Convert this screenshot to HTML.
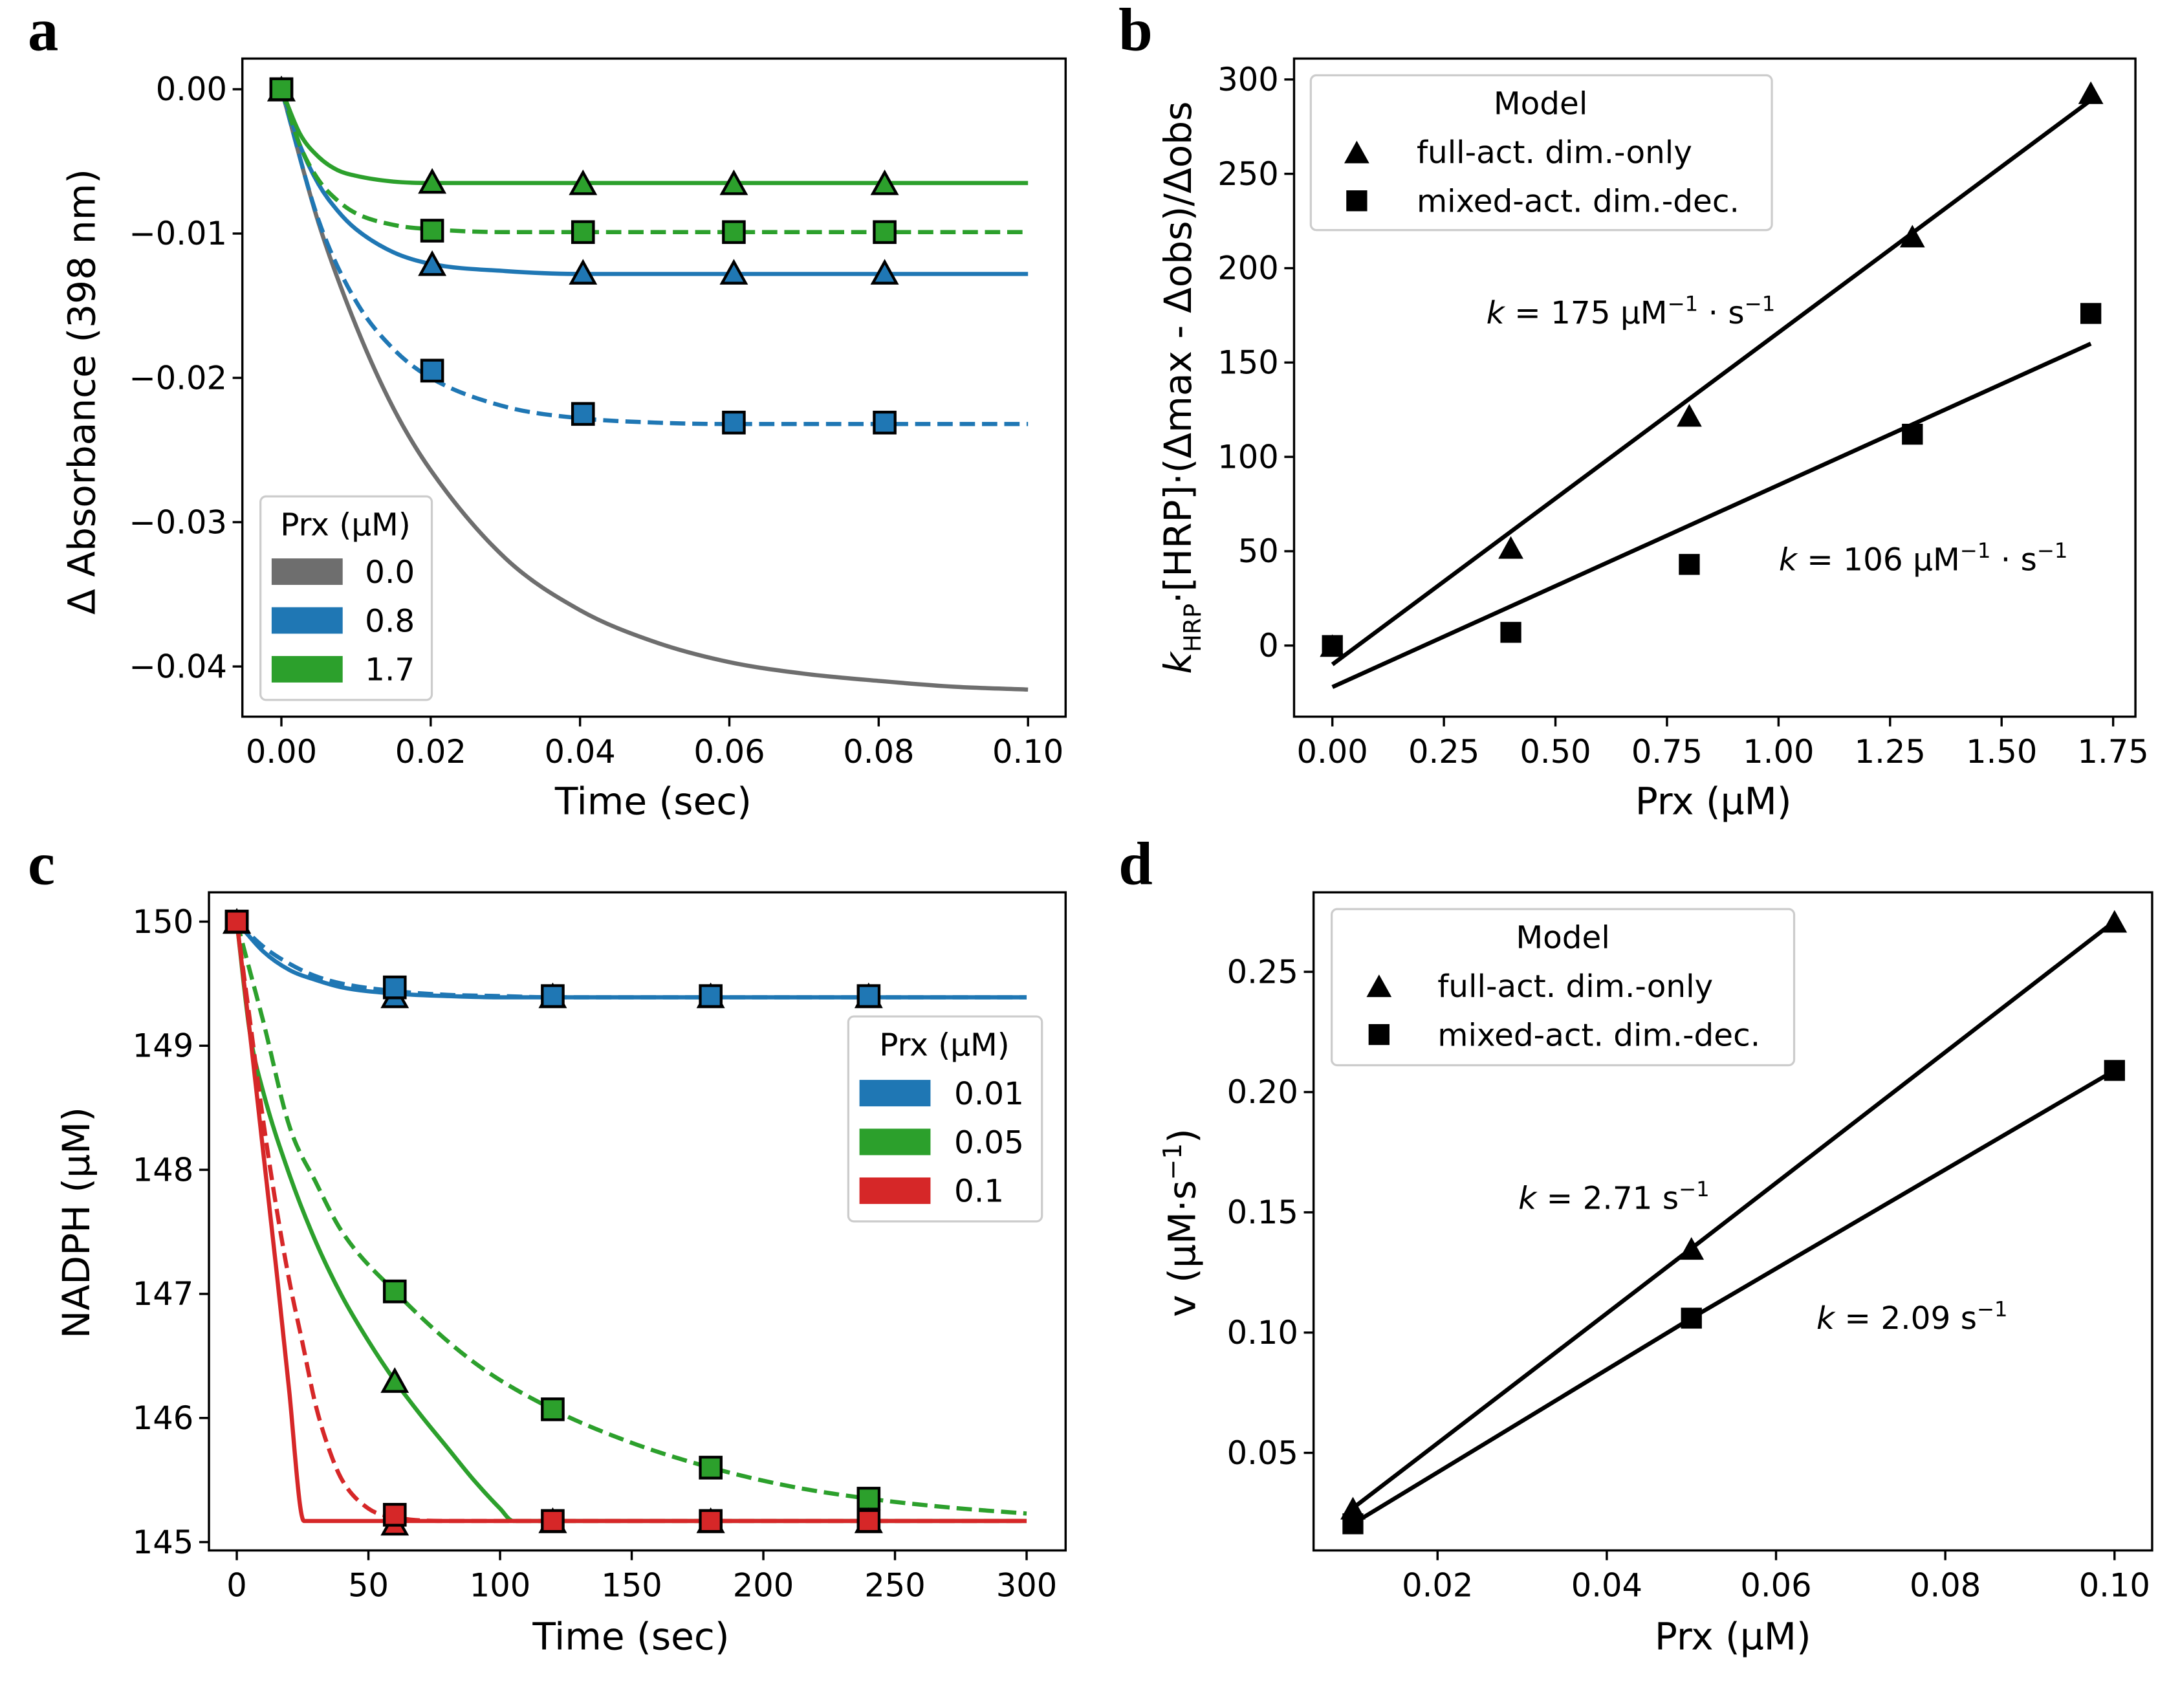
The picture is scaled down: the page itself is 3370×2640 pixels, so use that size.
<!DOCTYPE html>
<html><head><meta charset="utf-8"><style>
html,body{margin:0;padding:0;background:#fff;}
svg{display:block;}
text{font-family:"DejaVu Sans","Liberation Sans",sans-serif;fill:#000;}
.tick{font-size:23px;}
.lab{font-size:27px;}
.leg{font-size:22.5px;}
.let{font-family:"Liberation Serif",serif;font-weight:bold;font-size:44px;}
</style></head><body>
<svg id="fig" width="3370" height="2640" viewBox="0 0 1565 1225" preserveAspectRatio="none" xmlns="http://www.w3.org/2000/svg">
<rect width="1565" height="1225" fill="#fff"/>
<text class="let" x="20" y="36">a</text>
<text class="let" x="803" y="36">b</text>
<text class="let" x="20" y="634">c</text>
<text class="let" x="803" y="634">d</text>
</svg>
<script>
// ---------- Panel a data ----------
const aGrayT=[0,0.005,0.01,0.015,0.02,0.03,0.04,0.05,0.06,0.07,0.08,0.09,0.1];
const aGrayY=[0,-0.0093,-0.0164,-0.0221,-0.0264,-0.0325,-0.0361,-0.0383,-0.0397,-0.0405,-0.0410,-0.0414,-0.0416];
const aGreenSolidT=[0,0.0025,0.005,0.0075,0.01,0.015,0.02,0.03,0.1];
const aGreenSolidY=[0,-0.0031,-0.0047,-0.0056,-0.0060,-0.0064,-0.0065,-0.0065,-0.0065];
const aGreenDashT=[0,0.0025,0.005,0.0075,0.01,0.015,0.02,0.03,0.1];
const aGreenDashY=[0,-0.0039,-0.0063,-0.0077,-0.0086,-0.0094,-0.0097,-0.0099,-0.0099];
const aBlueSolidT=[0,0.0025,0.005,0.0075,0.01,0.015,0.02,0.03,0.04,0.1];
const aBlueSolidY=[0,-0.0039,-0.0066,-0.0084,-0.0097,-0.0113,-0.0121,-0.0126,-0.0128,-0.0128];
const aBlueDashT=[0,0.005,0.01,0.015,0.02,0.03,0.04,0.05,0.06,0.1];
const aBlueDashY=[0,-0.0091,-0.0147,-0.0180,-0.0200,-0.0220,-0.0228,-0.0231,-0.0232,-0.0232];
const aMarkT=[0,0.0202,0.0404,0.0606,0.0808];
const aGreenTri=[0,-0.0064,-0.0065,-0.0065,-0.0065];
const aGreenSq=[0,-0.0098,-0.0099,-0.0099,-0.0099];
const aBlueTri=[0,-0.0121,-0.0127,-0.0127,-0.0127];
const aBlueSq=[0,-0.0195,-0.0225,-0.0231,-0.0231];
const aXTicks=[0,0.02,0.04,0.06,0.08,0.1];
const aXTickLabels=["0.00","0.02","0.04","0.06","0.08","0.10"];
const aYTicks=[0,-0.01,-0.02,-0.03,-0.04];
const aYTickLabels=["0.00","\u22120.01","\u22120.02","\u22120.03","\u22120.04"];
const aLegendLabels=["0.0","0.8","1.7"];
// ---------- Panel b data ----------
const bX=[0,0.4,0.8,1.3,1.7];
const bTri=[0,52,122,217,293];
const bSq=[0,7,43,112,176];
const bTriFit=[-10,289];
const bSqFit=[-22,160];
const bXTicks=[0,0.25,0.5,0.75,1,1.25,1.5,1.75];
const bXTickLabels=["0.00","0.25","0.50","0.75","1.00","1.25","1.50","1.75"];
const bYTicks=[0,50,100,150,200,250,300];
// ---------- Panel c data ----------
const cBlueSolidT=[0,10,20,30,40,60,80,100,120,300];
const cBlueSolidY=[150,149.76,149.61,149.53,149.47,149.42,149.40,149.39,149.39,149.39];
const cBlueDashT=[0,10,20,30,40,60,80,100,120,300];
const cBlueDashY=[150,149.80,149.66,149.56,149.50,149.44,149.41,149.40,149.39,149.39];
const cGreenSolidT=[0,5,10,20,30,40,50,60,70,80,90,100,105,300];
const cGreenSolidY=[150,149.1,148.63,147.96,147.42,146.98,146.62,146.3,146.02,145.76,145.5,145.27,145.17,145.17];
const cGreenDashT=[0,5,10,20,30,40,60,90,120,150,180,210,240,270,300];
const cGreenDashY=[150,149.6,149.2,148.35,147.9,147.5,147.02,146.45,146.07,145.8,145.6,145.45,145.35,145.28,145.23];
const cRedSolidT=[0,5,10,15,20,24,25.5,300];
const cRedSolidY=[150,149.1,148.15,147.2,146.2,145.3,145.17,145.17];
const cRedDashT=[0,5,10,15,20,25,30,35,40,50,60,80,300];
const cRedDashY=[150,149.2,148.4,147.7,147.1,146.6,146.1,145.75,145.5,145.27,145.2,145.17,145.17];
const cMarkT=[0,60,120,180,240];
const cBlueTri=[150,149.4,149.4,149.4,149.4];
const cBlueSq=[150,149.47,149.4,149.4,149.4];
const cGreenTri=[150,146.3,145.17,145.17,145.17];
const cGreenSq=[150,147.02,146.07,145.6,145.35];
const cRedTri=[150,145.15,145.17,145.17,145.17];
const cRedSq=[150,145.22,145.17,145.17,145.17];
const cXTicks=[0,50,100,150,200,250,300];
const cYTicks=[145,146,147,148,149,150];
const cLegendLabels=["0.01","0.05","0.1"];
// ---------- Panel d data ----------
const dX=[0.01,0.05,0.1];
const dTri=[0.027,0.135,0.271];
const dSq=[0.0205,0.106,0.209];
const dXTicks=[0.02,0.04,0.06,0.08,0.1];
const dXTickLabels=["0.02","0.04","0.06","0.08","0.10"];
const dYTicks=[0.05,0.1,0.15,0.2,0.25];
const dYTickLabels=["0.05","0.10","0.15","0.20","0.25"];

const NS="http://www.w3.org/2000/svg";
const svg=document.getElementById('fig');
function mk(tag,attrs,parent,txt){const e=document.createElementNS(NS,tag);for(const k in attrs)e.setAttribute(k,attrs[k]);if(txt!==undefined)e.textContent=txt;(parent||svg).appendChild(e);return e;}
function lin(d0,d1,p0,p1){return v=>p0+(v-d0)*(p1-p0)/(d1-d0);}
const BLUE="#1f77b4",GREEN="#2ca02c",RED="#d62728",GRAY="#6e6e6e";

function axesFrame(g,box,xs,ys,xt,xl,yt,yl){
  xt.forEach((v,i)=>{const x=xs(v);
    const t=mk('line',{x1:x,x2:x,y1:box.b,y2:box.b+7,stroke:'#000','stroke-width':1.6},g);
    
    const tx=mk('text',{x:x,y:box.b+33,'text-anchor':'middle',class:'tick'},g,xl[i]);
    });
  yt.forEach((v,i)=>{const y=ys(v);
    const t=mk('line',{x1:box.l-7,x2:box.l,y1:y,y2:y,stroke:'#000','stroke-width':1.6},g);
    
    const tx=mk('text',{x:box.l-11,y:y+8,'text-anchor':'end',class:'tick'},g,yl[i]);
    });
}
function frame(g,box){const r=mk('rect',{x:box.l,y:box.t,width:box.r-box.l,height:box.b-box.t,fill:'none',stroke:'#000','stroke-width':1.6},g);
  }
function monoPath(X,Y){
  const n=X.length;const d=[],m=new Array(n);
  for(let i=0;i<n-1;i++)d.push((Y[i+1]-Y[i])/(X[i+1]-X[i]));
  m[0]=d[0];m[n-1]=d[n-2];
  for(let i=1;i<n-1;i++){m[i]=(d[i-1]*d[i]<=0)?0:(d[i-1]+d[i])/2;}
  for(let i=0;i<n-1;i++){if(d[i]===0){m[i]=0;m[i+1]=0;continue;}
    const a=m[i]/d[i],b=m[i+1]/d[i],s=a*a+b*b;if(s>9){const t=3/Math.sqrt(s);m[i]=t*a*d[i];m[i+1]=t*b*d[i];}}
  let p='M'+X[0].toFixed(2)+','+Y[0].toFixed(2);
  for(let i=0;i<n-1;i++){const h=(X[i+1]-X[i])/3;
    p+=' C'+(X[i]+h).toFixed(2)+','+(Y[i]+m[i]*h).toFixed(2)+' '+(X[i+1]-h).toFixed(2)+','+(Y[i+1]-m[i+1]*h).toFixed(2)+' '+X[i+1].toFixed(2)+','+Y[i+1].toFixed(2);}
  return p;}
function curve(g,xs,ys,T,Y,color,dash,name){
  const p=mk('path',{d:monoPath(T.map(xs),Y.map(ys)),fill:'none',stroke:color,'stroke-width':3,'stroke-linejoin':'round','stroke-dasharray':dash?'11,5':'none'},g);
  }
function tri(g,x,y,fill,s,name){const h=s*0.9;const p=mk('polygon',{points:`${x-s/2},${y+h/2} ${x+s/2},${y+h/2} ${x},${y-h/2}`,fill:fill,stroke:'#000','stroke-width':fill==='#000'?0:2,'stroke-linejoin':'miter'},g);
  }
function sq(g,x,y,fill,s,name){const p=mk('rect',{x:x-s/2,y:y-s/2,width:s,height:s,fill:fill,stroke:'#000','stroke-width':fill==='#000'?0:2},g);
  }

// ===== Panel a =====
(function(){
const g=mk('g',{});
const box={l:174,r:765,t:42,b:514};
const xs=lin(0,0.1,202,738), ys=lin(0,-0.04,64,478);
axesFrame(g,box,xs,ys,aXTicks,aXTickLabels,aYTicks,aYTickLabels);
curve(g,xs,ys,aGrayT,aGrayY,GRAY,false,'curve-gray-0.0');
curve(g,xs,ys,aBlueDashT,aBlueDashY,BLUE,true,'curve-blue-dashed');
curve(g,xs,ys,aBlueSolidT,aBlueSolidY,BLUE,false,'curve-blue-solid');
curve(g,xs,ys,aGreenDashT,aGreenDashY,GREEN,true,'curve-green-dashed');
curve(g,xs,ys,aGreenSolidT,aGreenSolidY,GREEN,false,'curve-green-solid');
aMarkT.forEach((t,i)=>{tri(g,xs(t),ys(aBlueTri[i]),BLUE,17,'marker-blue-tri');});
aMarkT.forEach((t,i)=>{sq(g,xs(t),ys(aBlueSq[i]),BLUE,15,'marker-blue-sq');});
aMarkT.forEach((t,i)=>{tri(g,xs(t),ys(aGreenTri[i]),GREEN,17,'marker-green-tri');});
aMarkT.forEach((t,i)=>{sq(g,xs(t),ys(aGreenSq[i]),GREEN,15,'marker-green-sq');});
frame(g,box);
const lg=mk('g',{},g);
mk('rect',{x:187,y:356,width:123,height:146,rx:4,fill:'#fff','fill-opacity':0.8,stroke:'#ccc','stroke-width':1.5},lg);
mk('text',{x:248,y:384,'text-anchor':'middle',class:'leg'},lg,'Prx (\u00b5M)');
const cols=[GRAY,BLUE,GREEN],ly=[410,445,480];
aLegendLabels.forEach((l,i)=>{const r=mk('rect',{x:195,y:ly[i]-9.5,width:51,height:19,fill:cols[i]},lg);
  
  const t=mk('text',{x:262,y:ly[i]+8,class:'leg'},lg,l);});
const xl=mk('text',{x:469,y:584,'text-anchor':'middle',class:'lab'},g,'Time (sec)');
const yl=mk('text',{x:0,y:0,'text-anchor':'middle',class:'lab',transform:'translate(68,281) rotate(-90)'},g,'\u0394 Absorbance (398 nm)');
})();

// ===== Panel b =====
(function(){
const g=mk('g',{});
const box={l:929,r:1533,t:42,b:514};
const xs=lin(0,1.75,956.5,1517), ys=lin(0,300,463,57);
axesFrame(g,box,xs,ys,bXTicks,bXTickLabels,bYTicks,bYTicks.map(String));
const f1=mk('line',{x1:xs(0),y1:ys(bTriFit[0]),x2:xs(1.7),y2:ys(bTriFit[1]),stroke:'#000','stroke-width':3},g);
const f2=mk('line',{x1:xs(0),y1:ys(bSqFit[0]),x2:xs(1.7),y2:ys(bSqFit[1]),stroke:'#000','stroke-width':3},g);
bX.forEach((x,i)=>tri(g,xs(x),ys(bTri[i]),'#000',18,'marker-tri'));
bX.forEach((x,i)=>sq(g,xs(x),ys(bSq[i]),'#000',15,'marker-sq'));
frame(g,box);
const a1=mk('text',{x:1067,y:232,class:'leg'},g);
a1.innerHTML='<tspan font-style="italic">k</tspan> = 175 \u00b5M<tspan dy="-9" font-size="15">\u22121</tspan><tspan dy="9"> \u00b7 s</tspan><tspan dy="-9" font-size="15">\u22121</tspan>';
const a2=mk('text',{x:1277,y:409,class:'leg'},g);
a2.innerHTML='<tspan font-style="italic">k</tspan> = 106 \u00b5M<tspan dy="-9" font-size="15">\u22121</tspan><tspan dy="9"> \u00b7 s</tspan><tspan dy="-9" font-size="15">\u22121</tspan>';
const lg=mk('g',{},g);
mk('rect',{x:941,y:54,width:331,height:111,rx:4,fill:'#fff','fill-opacity':0.8,stroke:'#ccc','stroke-width':1.5},lg);
mk('text',{x:1106,y:82,'text-anchor':'middle',class:'leg'},lg,'Model');
tri(lg,974,109,'#000',18,'legend-marker-tri');sq(lg,974,144,'#000',15,'legend-marker-sq');
const e1=mk('text',{x:1017,y:117,class:'leg'},lg,'full-act. dim.-only');
const e2=mk('text',{x:1017,y:152,class:'leg'},lg,'mixed-act. dim.-dec.');
const xl=mk('text',{x:1230,y:584,'text-anchor':'middle',class:'lab'},g,'Prx (\u00b5M)');
const yl=mk('text',{x:0,y:0,'text-anchor':'middle',class:'lab',transform:'translate(855,278) rotate(-90)'},g);
yl.innerHTML='<tspan font-style="italic">k</tspan><tspan dy="7" font-size="17">HRP</tspan><tspan dy="-7">\u00b7[HRP]\u00b7(\u0394max - \u0394obs)/\u0394obs</tspan>';
})();

// ===== Panel c =====
(function(){
const g=mk('g',{});
const box={l:150,r:765,t:640,b:1112};
const xs=lin(0,300,170,737), ys=lin(150,145,661,1106);
axesFrame(g,box,xs,ys,cXTicks,cXTicks.map(String),cYTicks,cYTicks.map(String));
curve(g,xs,ys,cBlueSolidT,cBlueSolidY,BLUE,false,'curve-blue-solid');
curve(g,xs,ys,cBlueDashT,cBlueDashY,BLUE,true,'curve-blue-dashed');
curve(g,xs,ys,cGreenSolidT,cGreenSolidY,GREEN,false,'curve-green-solid');
curve(g,xs,ys,cGreenDashT,cGreenDashY,GREEN,true,'curve-green-dashed');
curve(g,xs,ys,cRedDashT,cRedDashY,RED,true,'curve-red-dashed');
curve(g,xs,ys,cRedSolidT,cRedSolidY,RED,false,'curve-red-solid');
cMarkT.forEach((t,i)=>tri(g,xs(t),ys(cBlueTri[i]),BLUE,17,'marker-blue-tri'));
cMarkT.forEach((t,i)=>sq(g,xs(t),ys(cBlueSq[i]),BLUE,15,'marker-blue-sq'));
cMarkT.forEach((t,i)=>tri(g,xs(t),ys(cGreenTri[i]),GREEN,17,'marker-green-tri'));
cMarkT.forEach((t,i)=>sq(g,xs(t),ys(cGreenSq[i]),GREEN,15,'marker-green-sq'));
cMarkT.forEach((t,i)=>tri(g,xs(t),ys(cRedTri[i]),RED,17,'marker-red-tri'));
cMarkT.forEach((t,i)=>sq(g,xs(t),ys(cRedSq[i]),RED,15,'marker-red-sq'));
frame(g,box);
const lg=mk('g',{},g);
mk('rect',{x:609,y:729,width:139,height:147,rx:4,fill:'#fff','fill-opacity':0.8,stroke:'#ccc','stroke-width':1.5},lg);
mk('text',{x:678,y:757,'text-anchor':'middle',class:'leg'},lg,'Prx (\u00b5M)');
const cols=[BLUE,GREEN,RED],ly=[784,819,854];
cLegendLabels.forEach((l,i)=>{const r=mk('rect',{x:617,y:ly[i]-9.5,width:51,height:19,fill:cols[i]},lg);
  
  const t=mk('text',{x:685,y:ly[i]+8,class:'leg'},lg,l);});
const xl=mk('text',{x:453,y:1183,'text-anchor':'middle',class:'lab'},g,'Time (sec)');
const yl=mk('text',{x:0,y:0,'text-anchor':'middle',class:'lab',transform:'translate(64,877) rotate(-90)'},g,'NADPH (\u00b5M)');
})();

// ===== Panel d =====
(function(){
const g=mk('g',{});
const box={l:943,r:1545,t:640,b:1112};
const xs=lin(0.02,0.1,1032,1518), ys=lin(0.05,0.25,1042,697);
axesFrame(g,box,xs,ys,dXTicks,dXTickLabels,dYTicks,dYTickLabels);
const p1=mk('polyline',{points:dX.map((x,i)=>xs(x)+','+ys(dTri[i])).join(' '),fill:'none',stroke:'#000','stroke-width':3},g);
const p2=mk('polyline',{points:dX.map((x,i)=>xs(x)+','+ys(dSq[i])).join(' '),fill:'none',stroke:'#000','stroke-width':3},g);
dX.forEach((x,i)=>tri(g,xs(x),ys(dTri[i]),'#000',18,'marker-tri'));
dX.forEach((x,i)=>sq(g,xs(x),ys(dSq[i]),'#000',15,'marker-sq'));
frame(g,box);
const a1=mk('text',{x:1090,y:867,class:'leg'},g);
a1.innerHTML='<tspan font-style="italic">k</tspan> = 2.71 s<tspan dy="-9" font-size="15">\u22121</tspan>';
const a2=mk('text',{x:1304,y:953,class:'leg'},g);
a2.innerHTML='<tspan font-style="italic">k</tspan> = 2.09 s<tspan dy="-9" font-size="15">\u22121</tspan>';
const lg=mk('g',{},g);
mk('rect',{x:956,y:652,width:332,height:112,rx:4,fill:'#fff','fill-opacity':0.8,stroke:'#ccc','stroke-width':1.5},lg);
mk('text',{x:1122,y:680,'text-anchor':'middle',class:'leg'},lg,'Model');
tri(lg,990,707,'#000',18,'legend-marker-tri');sq(lg,990,742,'#000',15,'legend-marker-sq');
const e1=mk('text',{x:1032,y:715,class:'leg'},lg,'full-act. dim.-only');
const e2=mk('text',{x:1032,y:750,class:'leg'},lg,'mixed-act. dim.-dec.');
const xl=mk('text',{x:1244,y:1183,'text-anchor':'middle',class:'lab'},g,'Prx (\u00b5M)');
const yl=mk('text',{x:0,y:0,'text-anchor':'middle',class:'lab',transform:'translate(858,877) rotate(-90)'},g);
yl.innerHTML='v (\u00b5M\u00b7s<tspan dy="-10" font-size="18">\u22121</tspan><tspan dy="10">)</tspan>';
})();
</script>
</body></html>
